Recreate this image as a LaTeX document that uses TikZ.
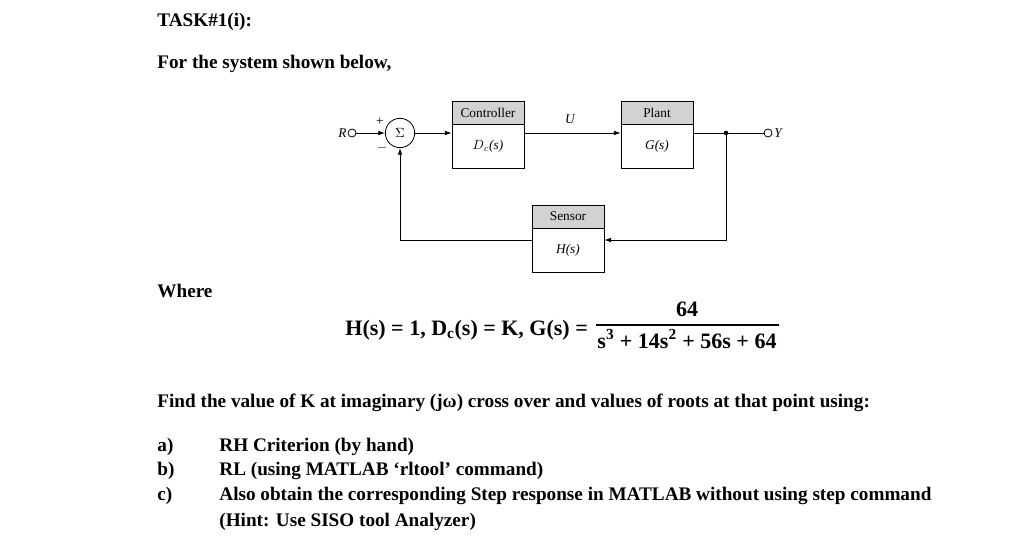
\documentclass[tikz,border=0pt]{standalone}
\usepackage{fontspec}
\setmainfont{Liberation Serif}
\begin{document}
\begin{tikzpicture}[x=0.75pt,y=-0.75pt,line width=0.6pt,
  body/.style={font=\bfseries\fontsize{14.4}{16}\selectfont,anchor=base west,inner sep=0},
  blk/.style={draw,fill=white,minimum width=54pt,minimum height=50.25pt,inner sep=0},
  hdr/.style={draw,fill=gray!35,minimum width=54pt,minimum height=17.25pt,inner sep=0,font=\fontsize{10}{11}\selectfont},
  lab/.style={font=\itshape\fontsize{10}{11}\selectfont,inner sep=0},
  sig/.style={-{Latex[length=5pt,width=3.5pt]}},
  eq/.style={font=\bfseries\fontsize{16.5}{18}\selectfont,inner sep=0}]
\usetikzlibrary{arrows.meta}
\useasboundingbox (0,0) rectangle (1029,557);
\node[body] (t1) at (157,26) {TASK\#1(i):};
\node[body] (t2) at (157,68) {For the system shown below,};
% diagram
\node[blk] (ctrl) at (488,134.5) {};
\node[hdr,anchor=north] (ctrlh) at (ctrl.north) {Controller};
\node[lab] at (488,146) {$D_c$(\textit{s})};
\node[blk] (plant) at (657,134.5) {};
\node[hdr,anchor=north] (planth) at (plant.north) {Plant};
\node[lab] at (657,146) {\textit{G}(\textit{s})};
\node[blk] (sens) at (568,238.5) {};
\node[hdr,anchor=north] (sensh) at (sens.north) {Sensor};
\node[lab] at (568,250) {\textit{H}(\textit{s})};
\node[draw,circle,minimum size=22pt,inner sep=0] (sum) at (400,133) {$\Sigma$};
\node[draw,circle,minimum size=6pt,inner sep=0] (rin) at (352,133) {};
\node[lab,anchor=east] at (347,133) {R};
\node[draw,circle,minimum size=6pt,inner sep=0] (yout) at (768,133) {};
\node[lab,anchor=west] at (774,133) {Y};
\node[lab] at (380,122) {\upshape +};
\node[lab] at (382,148) {\upshape $-$};
\node[lab] at (570,119) {U};
\coordinate (br) at (726,133);
\coordinate (fbr) at (726,240);
\coordinate (fbl) at (400,240);
\draw[sig] (rin) -- (sum);
\draw[sig] (sum) -- (ctrl.west|-sum);
\draw[sig] (ctrl.east|-sum) -- (plant.west|-sum);
\draw (plant.east|-br) -- (yout.west);
\fill (br) circle (2.3);
\draw[sig] (br) -- (fbr) -- (sens.east|-fbr);
\draw[sig] (sens.west|-fbl) -- (fbl) -- (sum);
% where
\node[body] (w) at (157,297) {Where};
\node[eq,anchor=base west] (lhs) at (345,335) {H(s) = 1, D\textsubscript{c}(s) = K, G(s) =};
\coordinate (fl) at (596,325);
\coordinate (fr) at (779,325);
\draw[line width=0.9pt] (fl) -- (fr);
\node[eq,anchor=base] (num) at (687,316) {64};
\node[eq,anchor=base] (den) at (687,348) {s\textsuperscript{3} + 14s\textsuperscript{2} + 56s + 64};
\node[body] (f) at (157,407) {Find the value of K at imaginary (j\char"03C9) cross over and values of roots at that point using:};
\node[body] (a1) at (157,451) {a)};
\node[body] (a2) at (219,451) {RH Criterion (by hand)};
\node[body] (b1) at (157,475) {b)};
\node[body] (b2) at (219,475) {RL (using MATLAB ‘rltool’ command)};
\node[body] (c1) at (157,500) {c)};
\node[body] (c2) at (219,500) {Also obtain the corresponding Step response in MATLAB without using step command};
\node[body] (c3) at (219,526) {(Hint: Use SISO tool Analyzer)};
\end{tikzpicture}
\end{document}
